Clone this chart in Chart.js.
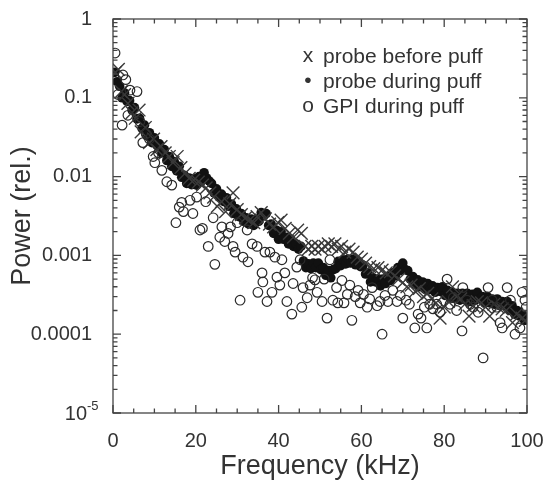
<!DOCTYPE html>
<html>
<head>
<meta charset="utf-8">
<script src="https://cdn.jsdelivr.net/npm/chart.js@4.4.1/dist/chart.umd.min.js"></script>
<style>
  html, body { margin: 0; padding: 0; background: #fff; }
  #wrap { width: 546px; height: 481px; }
</style>
</head>
<body>
<div id="wrap"><canvas id="spectrum" width="546" height="481"></canvas></div>
<script>
// probe before puff (x markers)
const beforeFreq = [0.6, 1.3, 2.0, 2.8, 3.6, 4.6, 5.4, 6.3, 6.8, 7.8, 8.8, 9.8, 10.6, 11.6, 12.6, 13.6, 14.5, 15.5, 16.4, 17.4,
  18.4, 19.5, 20.6, 21.6, 22.5, 23.4, 24.3, 25.2, 26.2, 27.2, 28.2, 29.0, 30.0, 31.0, 32.0, 33.0, 34.0, 34.8, 35.8, 36.8,
  37.8, 38.8, 39.8, 40.6, 41.6, 42.6, 43.6, 44.6, 45.5, 46.4, 47.2, 48.0, 48.8, 49.6, 50.4, 51.2, 52.0, 52.8, 53.6, 54.4,
  55.2, 56.0, 57.0, 58.0, 59.0, 60.0, 61.0, 62.0, 63.0, 64.0, 65.0, 66.0, 67.0, 68.0, 69.0, 70.0, 71.0, 72.0, 73.0, 74.0,
  75.0, 76.0, 77.0, 78.0, 79.0, 80.0, 81.0, 82.0, 83.0, 84.0, 85.0, 86.0, 87.0, 88.0, 89.0, 90.0, 91.0, 92.0, 93.0, 94.0,
  95.0, 96.5, 97.5, 98.8, 99.6];
const beforePower = [0.21, 0.23, 0.12, 0.11, 0.085, 0.065, 0.055, 0.07, 0.037, 0.042, 0.027, 0.03, 0.022, 0.024, 0.02, 0.018, 0.015, 0.018, 0.013, 0.011,
  0.0095, 0.009, 0.0085, 0.0078, 0.0072, 0.0062, 0.0055, 0.0042, 0.0048, 0.0036, 0.0045, 0.0062, 0.0038, 0.0033, 0.003, 0.0028, 0.0026, 0.0031, 0.0035, 0.0029,
  0.0025, 0.0023, 0.0026, 0.0028, 0.0022, 0.0019, 0.0017, 0.0021, 0.0019, 0.0013, 0.0012, 0.0013, 0.0012, 0.0013, 0.0012, 0.0013, 0.0014, 0.0013, 0.0014, 0.0012,
  0.0013, 0.0011, 0.0012, 0.0011, 0.00095, 0.0009, 0.0008, 0.00072, 0.00068, 0.0007, 0.00065, 0.0006, 0.00062, 0.00055, 0.0005, 0.00045, 0.0004, 0.00042, 0.00035, 0.00038,
  0.0003, 0.00033, 0.00028, 0.00025, 0.00016, 0.00022, 0.00026, 0.0004, 0.0003, 0.00028, 0.00024, 0.00017, 0.00023, 0.00026, 0.00025, 0.00022, 0.00017, 0.00024, 0.00022, 0.00021,
  0.0002, 0.00014, 0.00018, 0.00016, 0.00015];

// probe during puff (filled dots)
const duringFreq = [0.4, 1.0, 1.6, 2.2, 2.8, 3.4, 4.0, 4.6, 5.2, 5.8, 6.4, 7.0, 7.6, 8.2, 8.8, 9.4, 10.0, 10.6, 11.2, 11.8,
  12.4, 13.0, 13.6, 14.2, 14.8, 15.4, 16.0, 16.6, 17.2, 17.8, 18.4, 19.0, 19.6, 20.2, 20.8, 21.4, 22.0, 22.6, 23.2, 23.8,
  24.4, 25.0, 25.6, 26.2, 26.8, 27.4, 28.0, 28.6, 29.2, 29.8, 30.4, 31.0, 31.6, 32.2, 32.8, 33.4, 34.0, 34.6, 35.2, 35.8,
  36.4, 37.0, 37.6, 38.2, 38.8, 39.4, 40.0, 40.6, 41.2, 41.8, 42.4, 43.0, 43.6, 44.2, 44.8, 45.4, 46.0, 46.6, 47.2, 47.8,
  48.4, 49.0, 49.6, 50.2, 50.8, 51.4, 52.0, 52.6, 53.2, 53.8, 54.4, 55.0, 55.6, 56.2, 56.8, 57.4, 58.0, 58.6, 59.2, 59.8,
  60.4, 61.0, 61.6, 62.2, 62.8, 63.4, 64.0, 64.6, 65.2, 65.8, 66.4, 67.0, 67.6, 68.2, 68.8, 69.4, 70.0, 70.6, 71.2, 71.8,
  72.4, 73.0, 73.6, 74.2, 74.8, 75.4, 76.0, 76.6, 77.2, 77.8, 78.4, 79.0, 79.6, 80.2, 80.8, 81.4, 82.0, 82.6, 83.2, 83.8,
  84.4, 85.0, 85.6, 86.2, 86.8, 87.4, 88.0, 88.6, 89.2, 89.8, 90.4, 91.0, 91.6, 92.2, 92.8, 93.4, 94.0, 94.6, 95.2, 95.8,
  96.4, 97.0, 97.6, 98.2, 98.8, 99.4, 100.0];
const duringPower = [0.21, 0.16, 0.14, 0.1, 0.115, 0.09, 0.092, 0.07, 0.075, 0.054, 0.055, 0.041, 0.045, 0.033, 0.036, 0.027, 0.031, 0.025, 0.026, 0.02,
  0.022, 0.016, 0.018, 0.0135, 0.0155, 0.0118, 0.0135, 0.0098, 0.0104, 0.0082, 0.0096, 0.0079, 0.0094, 0.0078, 0.01, 0.0088, 0.0112, 0.0096, 0.0088, 0.0082,
  0.0062, 0.007, 0.0055, 0.006, 0.0048, 0.0054, 0.0042, 0.0045, 0.0034, 0.0039, 0.0031, 0.0034, 0.0027, 0.003, 0.0025, 0.0029, 0.0024, 0.0029, 0.0027, 0.0035,
  0.0032, 0.0034, 0.0024, 0.0025, 0.0019, 0.0021, 0.0016, 0.002, 0.0016, 0.0017, 0.0014, 0.0016, 0.0013, 0.0014, 0.0012, 0.0013, 0.00085, 0.0007, 0.00078, 0.00068,
  0.0008, 0.0007, 0.0008, 0.00066, 0.0007, 0.00056, 0.00064, 0.00052, 0.00066, 0.00068, 0.00084, 0.00074, 0.00088, 0.00078, 0.0009, 0.0008, 0.0009, 0.00076, 0.00085, 0.00072,
  0.00075, 0.00058, 0.0006, 0.00046, 0.00052, 0.00046, 0.0005, 0.00041, 0.0005, 0.00044, 0.00054, 0.00048, 0.0006, 0.00055, 0.0007, 0.00064, 0.0008, 0.00066, 0.00064, 0.0005,
  0.00054, 0.00043, 0.00049, 0.0004, 0.00046, 0.00037, 0.00044, 0.00037, 0.00041, 0.00034, 0.00039, 0.00035, 0.0004, 0.00031, 0.00036, 0.00029, 0.00034, 0.00029, 0.00033, 0.00027,
  0.00033, 0.00028, 0.00033, 0.00026, 0.00032, 0.00027, 0.00034, 0.00028, 0.0003, 0.00025, 0.0003, 0.00025, 0.00028, 0.00024, 0.00028, 0.00023, 0.00026, 0.00023, 0.00026, 0.0002,
  0.00023, 0.00018, 0.0002, 0.00017, 0.00018, 0.00015, 0.00016];

// GPI during puff (open circles)
const gpiFreq = [0.5, 1.2, 2.2, 2.4, 3.1, 3.6, 4.1, 5.8, 6.5, 7.2, 8.0, 8.8, 9.7, 10.1, 11.0, 11.8, 13.0, 14.2, 15.2, 16.0,
  16.6, 17.0, 18.6, 19.3, 20.2, 21.0, 21.6, 22.4, 23.0, 24.2, 24.6, 25.8, 26.3, 27.0, 27.8, 28.4, 29.0, 29.5, 30.0, 30.7,
  31.4, 32.4, 32.6, 33.6, 34.8, 35.0, 36.0, 36.2, 36.7, 37.2, 37.9, 38.4, 39.1, 39.6, 40.3, 40.8, 41.5, 42.0, 43.2, 43.5,
  44.4, 45.2, 45.6, 45.9, 46.9, 47.6, 48.2, 48.8, 49.3, 50.5, 51.0, 51.7, 52.4, 53.1, 54.0, 54.3, 55.3, 55.8, 56.6, 57.2,
  57.7, 58.5, 59.2, 59.7, 60.5, 61.4, 62.0, 62.6, 63.8, 64.5, 65.0, 65.7, 66.4, 67.6, 68.6, 69.4, 70.0, 70.8, 71.6, 72.9,
  73.7, 74.4, 75.2, 75.8, 76.5, 77.3, 78.2, 79.0, 80.7, 81.4, 82.2, 83.0, 84.3, 84.5, 85.5, 86.3, 87.0, 88.2, 89.4, 90.6,
  91.6, 92.7, 93.5, 94.0, 95.2, 96.0, 97.1, 98.3, 98.8, 99.5, 99.8];
const gpiPower = [0.37, 0.11, 0.045, 0.195, 0.17, 0.06, 0.125, 0.12, 0.05, 0.027, 0.035, 0.03, 0.018, 0.015, 0.02, 0.012, 0.0086, 0.0078, 0.0026, 0.0041,
  0.0047, 0.0036, 0.005, 0.0034, 0.0055, 0.0021, 0.0022, 0.0048, 0.0013, 0.003, 0.00077, 0.0017, 0.0023, 0.0015, 0.0019, 0.0023, 0.0013, 0.0011, 0.0026, 0.00027,
  0.00095, 0.0021, 0.00083, 0.0014, 0.0013, 0.00034, 0.0006, 0.00046, 0.0011, 0.00026, 0.0011, 0.00034, 0.00095, 0.00053, 0.00042, 0.00088, 0.0006, 0.00026, 0.00018, 0.00044,
  0.00071, 0.00088, 0.00022, 0.00039, 0.00029, 0.00042, 0.00052, 0.00049, 0.00034, 0.00026, 0.0005, 0.00016, 0.00088, 0.00027, 0.00039, 0.00025, 0.00048, 0.00025, 0.00032, 0.00042,
  0.00015, 0.0003, 0.00036, 0.00025, 0.00032, 0.00022, 0.00028, 0.00039, 0.00023, 0.00026, 0.0001, 0.00031, 0.00026, 0.00036, 0.00026, 0.00031, 0.00016, 0.00027, 0.00024, 0.00012,
  0.00018, 0.00016, 0.00022, 0.00012, 0.00024, 0.00021, 0.00024, 0.00019, 0.0005, 0.00024, 0.00029, 0.0002, 0.00011, 0.00039, 0.00027, 0.00024, 0.00022, 0.00019, 0.00005, 0.00039,
  0.00027, 0.00022, 0.00014, 0.00012, 0.00039, 0.00027, 0.0001, 0.00012, 0.00034, 0.00027, 0.00022];

const yTickValues = [1e-5, 1e-4, 1e-3, 1e-2, 1e-1, 1];
// the lowest label is drawn by hand as 10 with a superscript -5
const yTickLabels = ['', '0.0001', '0.001', '0.01', '0.1', '1'];
const legendSymbols = ['x', '\u2022', 'o'];
const legendLabels = ['probe before puff', 'probe during puff', 'GPI during puff'];

const FONT = "'Liberation Sans', Arial, Helvetica, sans-serif";
const INK = '#333';

const toPoints = (xs, ys) => xs.map((f, i) => ({ x: f, y: ys[i] }));

// inward ticks, frame, the 10^-5 label and the text legend
const framePlugin = {
  id: 'frame',
  afterDatasetsDraw(chart) {
    const { ctx, chartArea: a, scales: { x, y } } = chart;
    ctx.save();
    ctx.strokeStyle = '#444';
    ctx.lineWidth = 1.3;
    ctx.beginPath();
    for (let f = 0; f <= 100; f += 5) {
      const px = x.getPixelForValue(f);
      const len = f % 20 === 0 ? 8 : 4.5;
      ctx.moveTo(px, a.bottom); ctx.lineTo(px, a.bottom - len);
      ctx.moveTo(px, a.top); ctx.lineTo(px, a.top + len);
    }
    for (let d = 1e-5; d < 1.5; d *= 10) {
      for (let m = 1; m <= 9; m++) {
        const v = d * m;
        if (v > 1.0001) break;
        const py = y.getPixelForValue(v);
        const len = m === 1 ? 8 : 4.5;
        ctx.moveTo(a.left, py); ctx.lineTo(a.left + len, py);
        ctx.moveTo(a.right, py); ctx.lineTo(a.right - len, py);
      }
    }
    ctx.stroke();
    ctx.strokeRect(a.left, a.top, a.right - a.left, a.bottom - a.top);

    ctx.fillStyle = INK;
    ctx.textBaseline = 'middle';
    const yLow = y.getPixelForValue(1e-5);
    ctx.textAlign = 'right';
    ctx.font = '20px ' + FONT;
    ctx.fillText('10', a.left - 26, yLow + 1);
    ctx.textAlign = 'left';
    ctx.font = '13px ' + FONT;
    ctx.fillText('-5', a.left - 26, yLow - 7);

    ctx.font = '21px ' + FONT;
    legendLabels.forEach((txt, i) => {
      const ly = a.top + 38 + i * 25;
      ctx.textAlign = 'center';
      ctx.fillText(legendSymbols[i], a.left + 195, ly - 1);
      ctx.textAlign = 'left';
      ctx.fillText(txt, a.left + 210, ly);
    });
    ctx.restore();
  }
};

new Chart(document.getElementById('spectrum'), {
  type: 'scatter',
  data: {
    datasets: [
      {
        label: 'GPI during puff',
        data: toPoints(gpiFreq, gpiPower),
        pointStyle: 'circle',
        pointRadius: 4.8,
        backgroundColor: 'rgba(0,0,0,0)',
        borderColor: '#2a2a2a',
        borderWidth: 1.2
      },
      {
        label: 'probe before puff',
        data: toPoints(beforeFreq, beforePower),
        pointStyle: 'crossRot',
        pointRadius: 9,
        borderColor: '#3a3a3a',
        borderWidth: 1.4
      },
      {
        label: 'probe during puff',
        data: toPoints(duringFreq, duringPower),
        pointStyle: 'circle',
        pointRadius: 4.8,
        backgroundColor: '#111',
        borderColor: '#111',
        borderWidth: 0
      }
    ]
  },
  options: {
    responsive: false,
    animation: false,
    events: [],
    layout: { padding: { top: 19, right: 19, left: 0, bottom: 0 } },
    plugins: { legend: { display: false }, tooltip: { enabled: false } },
    scales: {
      x: {
        type: 'linear',
        min: 0,
        max: 100,
        grid: { display: false },
        border: { display: false },
        ticks: { stepSize: 20, color: INK, padding: 8, font: { family: FONT, size: 20 } },
        title: {
          display: true,
          text: 'Frequency (kHz)',
          color: INK,
          font: { family: FONT, size: 27, lineHeight: 1.1 },
          padding: { top: 0, bottom: 0 }
        },
        afterFit(scale) {
          scale.height = 68;
          scale.paddingLeft = 0;
          scale.paddingRight = 0;
        }
      },
      y: {
        type: 'logarithmic',
        min: 1e-5,
        max: 1,
        grid: { display: false },
        border: { display: false },
        afterBuildTicks(scale) {
          scale.ticks = yTickValues.map(v => ({ value: v, major: true }));
        },
        ticks: {
          color: INK,
          padding: 13,
          font: { family: FONT, size: 20 },
          callback: (value, index) => yTickLabels[index]
        },
        title: {
          display: true,
          text: 'Power (rel.)',
          color: INK,
          font: { family: FONT, size: 27, lineHeight: 1.1 },
          padding: { top: 8, bottom: 0 }
        },
        afterFit(scale) {
          scale.width = 113;
          scale.paddingTop = 0;
          scale.paddingBottom = 0;
        }
      }
    }
  },
  plugins: [framePlugin]
});
</script>
</body>
</html>
